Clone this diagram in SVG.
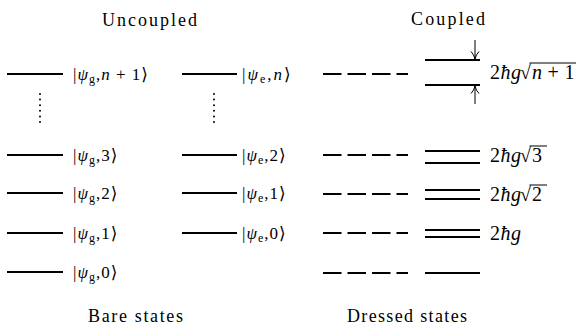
<svg xmlns="http://www.w3.org/2000/svg" width="576" height="329" viewBox="0 0 576 329">
<defs>
<style>
text{fill:#000;font-family:'Liberation Serif','DejaVu Serif',serif}
.t{font-size:18px}
.m{font-size:17px;letter-spacing:1px}
.d{font-size:20px;letter-spacing:0.5px}
.i{font-style:italic}
.s{font-size:12px}
.lv{stroke:#000;stroke-width:2;fill:none}
.ds{stroke:#000;stroke-width:2;stroke-dasharray:18.5 6;fill:none}
.dot{stroke:#000;stroke-width:2;stroke-linecap:round;stroke-dasharray:0 5.6;fill:none}
.ar{stroke:#000;stroke-width:1;fill:none}
.vin{stroke:#000;stroke-width:1;fill:none}
</style>
<marker id="ah" viewBox="0 0 10 10" refX="9.5" refY="5" markerWidth="10" markerHeight="10" markerUnits="userSpaceOnUse" orient="auto">
<path d="M2,1 Q5,4 9.5,5 Q5,6 2,9" fill="none" stroke="#000" stroke-width="1"/>
</marker>
</defs>

<g id="titles">
<text class="t" x="102" y="26" textLength="95" lengthAdjust="spacing">Uncoupled</text>
<text class="t" x="411" y="25" textLength="74" lengthAdjust="spacing">Coupled</text>
<text class="t" x="88" y="322" textLength="95" lengthAdjust="spacing">Bare states</text>
<text class="t" x="347" y="322" textLength="120" lengthAdjust="spacing">Dressed states</text>
</g>

<g id="g-n1">
<line class="lv" x1="7" y1="74" x2="63" y2="74"/>
<text class="m" x="73" y="80">|<tspan class="i">ψ</tspan><tspan class="s" dy="3">g</tspan><tspan dy="-3">,</tspan><tspan class="i">n</tspan> + 1⟩</text>
</g>
<g id="g-3">
<line class="lv" x1="7" y1="155" x2="63" y2="155"/>
<text class="m" x="73" y="161">|<tspan class="i">ψ</tspan><tspan class="s" dy="3">g</tspan><tspan dy="-3">,</tspan>3⟩</text>
</g>
<g id="g-2">
<line class="lv" x1="7" y1="193" x2="63" y2="193"/>
<text class="m" x="73" y="199">|<tspan class="i">ψ</tspan><tspan class="s" dy="3">g</tspan><tspan dy="-3">,</tspan>2⟩</text>
</g>
<g id="g-1">
<line class="lv" x1="7" y1="233" x2="63" y2="233"/>
<text class="m" x="73" y="239">|<tspan class="i">ψ</tspan><tspan class="s" dy="3">g</tspan><tspan dy="-3">,</tspan>1⟩</text>
</g>
<g id="g-0">
<line class="lv" x1="7" y1="272" x2="63" y2="272"/>
<text class="m" x="73" y="278">|<tspan class="i">ψ</tspan><tspan class="s" dy="3">g</tspan><tspan dy="-3">,</tspan>0⟩</text>
</g>
<g id="g-dots">
<line class="dot" x1="40" y1="94" x2="40" y2="127"/>
</g>

<g id="e-n">
<line class="lv" x1="182" y1="74" x2="237" y2="74"/>
<text class="m" x="242" y="80" style="letter-spacing:2px">|<tspan class="i">ψ</tspan><tspan class="s" dy="3">e</tspan><tspan dy="-3">,</tspan><tspan class="i">n</tspan>⟩</text>
</g>
<g id="e-2">
<line class="lv" x1="182" y1="155" x2="237" y2="155"/>
<text class="m" x="242" y="161">|<tspan class="i">ψ</tspan><tspan class="s" dy="3">e</tspan><tspan dy="-3">,</tspan>2⟩</text>
</g>
<g id="e-1">
<line class="lv" x1="182" y1="193" x2="237" y2="193"/>
<text class="m" x="242" y="199">|<tspan class="i">ψ</tspan><tspan class="s" dy="3">e</tspan><tspan dy="-3">,</tspan>1⟩</text>
</g>
<g id="e-0">
<line class="lv" x1="182" y1="233" x2="237" y2="233"/>
<text class="m" x="242" y="239">|<tspan class="i">ψ</tspan><tspan class="s" dy="3">e</tspan><tspan dy="-3">,</tspan>0⟩</text>
</g>
<g id="e-dots">
<line class="dot" x1="214" y1="94" x2="214" y2="127"/>
</g>

<g id="dashed">
<line class="ds" x1="323" y1="74" x2="408" y2="74"/>
<line class="ds" x1="323" y1="155" x2="408" y2="155"/>
<line class="ds" x1="323" y1="194" x2="408" y2="194"/>
<line class="ds" x1="323" y1="233" x2="408" y2="233"/>
<line class="ds" x1="323" y1="273" x2="408" y2="273"/>
</g>

<g id="d-n1">
<line class="lv" x1="425" y1="60" x2="480" y2="60"/>
<line class="lv" x1="425" y1="85" x2="480" y2="85"/>
<text class="d" x="490" y="79">2<tspan class="i">ħg</tspan></text>
<text class="d" x="520" y="79">√</text>
<text class="d" x="532" y="79" textLength="43" lengthAdjust="spacing"><tspan class="i">n</tspan>+1</text>
<line class="vin" x1="529.5" y1="63" x2="576" y2="63"/>
</g>
<g id="d-3">
<line class="lv" x1="425" y1="151" x2="480" y2="151"/>
<line class="lv" x1="425" y1="163" x2="480" y2="163"/>
<text class="d" x="490" y="162">2<tspan class="i">ħg</tspan></text>
<text class="d" x="520" y="162">√</text>
<text class="d" x="532" y="162">3</text>
<line class="vin" x1="529.5" y1="146" x2="547" y2="146"/>
</g>
<g id="d-2">
<line class="lv" x1="425" y1="190" x2="480" y2="190"/>
<line class="lv" x1="425" y1="199" x2="480" y2="199"/>
<text class="d" x="490" y="201">2<tspan class="i">ħg</tspan></text>
<text class="d" x="520" y="201">√</text>
<text class="d" x="532" y="201">2</text>
<line class="vin" x1="529.5" y1="185" x2="547" y2="185"/>
</g>
<g id="d-1">
<line class="lv" x1="425" y1="230" x2="480" y2="230"/>
<line class="lv" x1="425" y1="237" x2="480" y2="237"/>
<text class="d" x="490" y="240">2<tspan class="i">ħg</tspan></text>
</g>
<g id="d-0">
<line class="lv" x1="425" y1="273" x2="480" y2="273"/>
</g>

<g id="connectors">
<line class="ar" x1="475" y1="40" x2="475" y2="59" marker-end="url(#ah)"/>
<line class="ar" x1="475" y1="104" x2="475" y2="86" marker-end="url(#ah)"/>
</g>
</svg>
